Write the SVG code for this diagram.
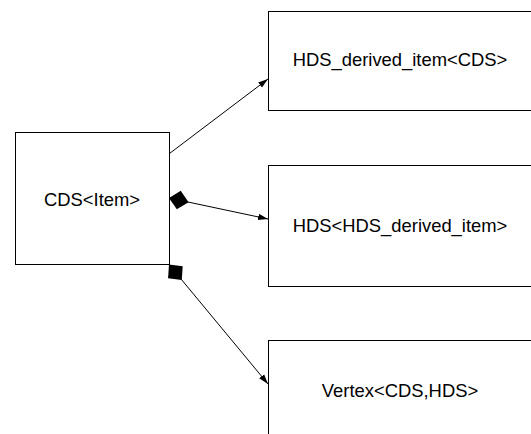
<svg xmlns="http://www.w3.org/2000/svg" width="531" height="434" viewBox="0 0 531 434">
<style>
.box{fill:#fff;stroke:#000;stroke-width:1}
.lbl{font-family:"Liberation Sans",Arial,sans-serif;font-size:18.4px;fill:#000;text-anchor:middle}
.edge{stroke:#000;stroke-width:1;fill:none}
</style>
<defs>
<marker id="arrow" markerUnits="userSpaceOnUse" markerWidth="12" markerHeight="10" viewBox="0 -5 12 10" refX="10" refY="0" orient="auto">
<path d="M0,-3.2 L10,0 L0,3.2 Z" fill="#000"/>
</marker>
<marker id="diamond" markerUnits="userSpaceOnUse" markerWidth="22" markerHeight="22" viewBox="-1 -11 22 22" refX="0" refY="0" orient="auto">
<path d="M0,0 L10,-9.5 L20,0 L10,9.5 Z" fill="#000"/>
</marker>
</defs>
<rect width="531" height="434" fill="#fff"/>
<g id="cds">
<rect class="box" x="15.5" y="132.5" width="154" height="132"/>
<text class="lbl" x="92" y="206">CDS&lt;Item&gt;</text>
</g>
<g id="hds-derived-item">
<rect class="box" x="268.5" y="11.5" width="264" height="99"/>
<text class="lbl" x="400" y="66">HDS_derived_item&lt;CDS&gt;</text>
</g>
<g id="hds">
<rect class="box" x="268.5" y="165.5" width="264" height="121"/>
<text class="lbl" x="400" y="232">HDS&lt;HDS_derived_item&gt;</text>
</g>
<g id="vertex">
<rect class="box" x="268.5" y="340.5" width="264" height="100"/>
<text class="lbl" x="400" y="397">Vertex&lt;CDS,HDS&gt;</text>
</g>
<g id="connectors">
<line class="edge" x1="169.5" y1="153.5" x2="268" y2="79" marker-end="url(#arrow)"/>
<line class="edge" x1="169" y1="198" x2="268" y2="219" marker-start="url(#diamond)" marker-end="url(#arrow)"/>
<line class="edge" x1="169" y1="264.5" x2="268" y2="384" marker-start="url(#diamond)" marker-end="url(#arrow)"/>
</g>
</svg>
